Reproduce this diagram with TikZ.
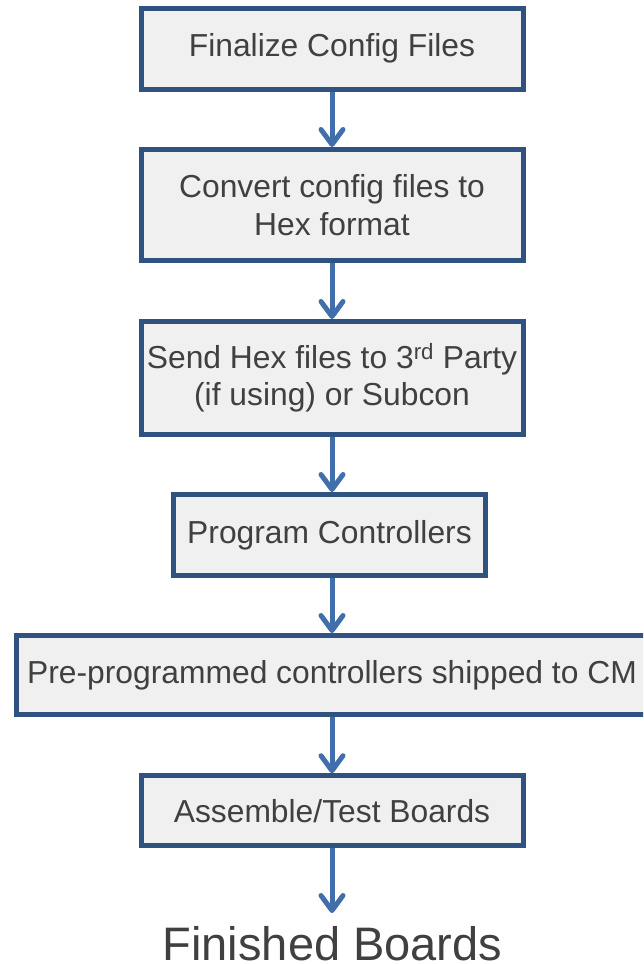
\documentclass[tikz,border=0pt]{standalone}
\usepackage{fontspec}
\setmainfont{Liberation Sans}
\usetikzlibrary{arrows.meta}
\definecolor{boxborder}{RGB}{47,82,128}
\definecolor{boxfill}{RGB}{240,240,240}
\definecolor{arrowblue}{RGB}{64,111,172}
\definecolor{txt}{RGB}{64,64,64}
\tikzset{
  stepbox/.style={draw=boxborder, fill=boxfill, line width=5pt, rectangle,
    inner sep=0pt, text=txt, align=center, font=\fontsize{31.8}{38.5}\selectfont},
  flowarrow/.style={draw=arrowblue, line width=5pt,
    -{Straight Barb[length=15pt,width=22pt,round]}}
}
\begin{document}
\begin{tikzpicture}[x=1pt,y=-1pt]
\useasboundingbox (0,0) rectangle (643,964);
\fill[white] (0,0) rectangle (643,964);
\begin{scope}
\clip (0,0) rectangle (643,964);
\node[stepbox, minimum width=382pt, minimum height=81pt] (b1) at (332,48.5) {Finalize Config Files};
\node[stepbox, minimum width=382pt, minimum height=111pt] (b2) at (332,205) {Convert config files to\\Hex format};
\node[stepbox, minimum width=382pt, minimum height=113pt, font=\fontsize{31.8}{37}\selectfont] (b3) at (332,378) {Send Hex files to 3\textsuperscript{rd} Party\\(if using) or Subcon};
\node[stepbox, minimum width=312pt, minimum height=81pt] (b4) at (329.5,535) {Program Controllers};
\node[stepbox, minimum width=631pt, minimum height=79pt] (b5) at (332,675) {Pre-programmed controllers shipped to CM};
\node[stepbox, minimum width=382pt, minimum height=70pt] (b6) at (332,810.7) {Assemble/Test Boards};
\node[text=txt, font=\fontsize{47}{56}\selectfont, inner sep=0pt, anchor=base] (fin) at (332.5,960) {Finished Boards};
\coordinate (finend) at (332,913);
\end{scope}
\draw[flowarrow] (b1.south) -- (b2.north);
\draw[flowarrow] (b2.south) -- (b3.north);
\draw[flowarrow] (b3.south) -- (b3.south |- b4.north);
\draw[flowarrow] (b4.south -| b3.south) -- (b3.south |- b5.north);
\draw[flowarrow] (b5.south) -- (b6.north);
\draw[flowarrow] (b6.south) -- (finend);
\end{tikzpicture}
\end{document}
